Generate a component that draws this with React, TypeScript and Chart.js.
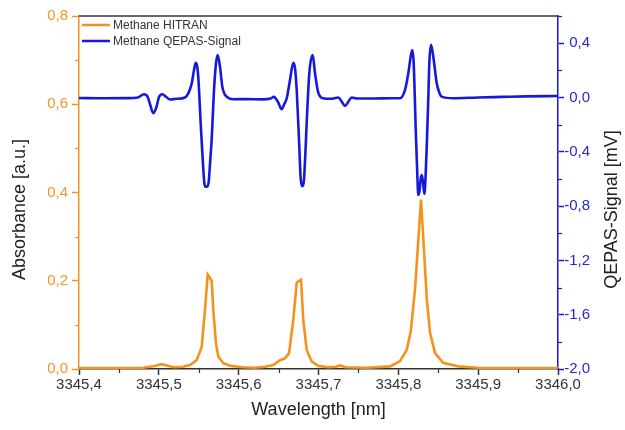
import { useEffect, useRef } from 'react';
import { Chart, registerables } from 'chart.js';

Chart.register(...registerables);

const FONT = "'Liberation Sans', Arial, Helvetica, sans-serif";
const ORANGE = '#F5921E';
const ORANGE_TEXT = '#F0962A';
const BLUE = '#1818DC';
const BLUE_TEXT = '#2828CC';
const DARK = '#333333';
const TITLE = '#222222';

const seriesLabels = ['Methane HITRAN', 'Methane QEPAS-Signal'];
const axisTitles = { x: 'Wavelength [nm]', left: 'Absorbance [a.u.]', right: 'QEPAS-Signal [mV]' };

// Methane HITRAN absorbance (left axis)
const hitranX = [
  3345.400, 3345.440, 3345.480, 3345.495, 3345.503, 3345.510, 3345.518, 3345.530, 3345.539,
  3345.5474, 3345.5537, 3345.5578, 3345.5612, 3345.5662, 3345.5682, 3345.5716, 3345.5745,
  3345.5808, 3345.590, 3345.605, 3345.620, 3345.633, 3345.6434, 3345.6518, 3345.658, 3345.6631,
  3345.6684, 3345.6727, 3345.6781, 3345.681, 3345.6852, 3345.6915, 3345.6998, 3345.712, 3345.722,
  3345.727, 3345.734, 3345.760, 3345.790, 3345.8021, 3345.8105, 3345.8155, 3345.8209, 3345.8284,
  3345.8326, 3345.8356, 3345.8397, 3345.846, 3345.856, 3345.875, 3345.900, 3345.950, 3346.000,
];
const hitranY = [
  0.002, 0.002, 0.003, 0.007, 0.011, 0.008, 0.004, 0.005, 0.009,
  0.020, 0.050, 0.134, 0.214, 0.200, 0.134, 0.058, 0.028,
  0.013, 0.007, 0.004, 0.003, 0.005, 0.009, 0.020, 0.024, 0.036,
  0.111, 0.196, 0.202, 0.110, 0.043, 0.017, 0.007, 0.004, 0.005,
  0.008, 0.004, 0.003, 0.006, 0.018, 0.043, 0.085, 0.180, 0.384,
  0.255, 0.160, 0.082, 0.036, 0.014, 0.006, 0.003, 0.002, 0.002,
];

// Methane QEPAS signal in mV (right axis)
const qepasX = [
  3345.400, 3345.430, 3345.460, 3345.474, 3345.4814, 3345.486, 3345.489, 3345.4931, 3345.497,
  3345.500, 3345.5043, 3345.509, 3345.514, 3345.522, 3345.5328, 3345.5369, 3345.5412, 3345.5440,
  3345.5462, 3345.5480, 3345.5494, 3345.5510, 3345.5524, 3345.5550, 3345.5570, 3345.5585, 3345.5605,
  3345.5625, 3345.5642, 3345.5662, 3345.5691, 3345.5716, 3345.5737, 3345.5766, 3345.5795, 3345.5820,
  3345.5850, 3345.5933, 3345.610, 3345.630, 3345.6400, 3345.6440, 3345.6490, 3345.6539, 3345.6570,
  3345.6602, 3345.6643, 3345.6684, 3345.6705, 3345.6727, 3345.6756, 3345.6775, 3345.6790, 3345.6805,
  3345.6818, 3345.6835, 3345.6852, 3345.6885, 3345.6927, 3345.6956, 3345.6998, 3345.7060, 3345.7150,
  3345.7248, 3345.7290, 3345.7332, 3345.7375, 3345.7416, 3345.7480, 3345.770, 3345.790, 3345.8021,
  3345.8084, 3345.8125, 3345.8155, 3345.8175, 3345.8190, 3345.8200, 3345.8218, 3345.8235, 3345.8250,
  3345.8265, 3345.8280, 3345.8293, 3345.8308, 3345.8326, 3345.8340, 3345.8356, 3345.8376, 3345.8388,
  3345.8409, 3345.8438, 3345.8481, 3345.8520, 3345.8543, 3345.8689, 3345.900, 3345.930, 3345.960,
  3346.000,
];
const qepasY = [
  -0.004, -0.006, -0.005, 0.000, 0.024, 0.005, -0.050, -0.116, -0.070,
  0.000, 0.024, 0.005, -0.015, -0.010, 0.000, 0.030, 0.104, 0.200,
  0.256, 0.230, 0.153, -0.020, -0.190, -0.460, -0.630, -0.657, -0.657,
  -0.620, -0.480, -0.310, 0.055, 0.250, 0.313, 0.227, 0.080, 0.030,
  0.006, -0.013, -0.012, -0.014, -0.008, 0.004, -0.030, -0.087, -0.050,
  -0.006, 0.129, 0.256, 0.220, 0.055, -0.313, -0.580, -0.652, -0.652,
  -0.607, -0.420, -0.188, 0.180, 0.313, 0.180, 0.033, -0.006, -0.010,
  0.000, -0.030, -0.063, -0.030, 0.000, -0.008, -0.008, -0.006, -0.006,
  0.055, 0.178, 0.300, 0.350, 0.280, 0.129, -0.240, -0.520, -0.718,
  -0.690, -0.600, -0.571, -0.620, -0.711, -0.600, -0.362, 0.006, 0.252,
  0.387, 0.300, 0.105, 0.025, 0.006, -0.006, 0.000, 0.004, 0.008,
  0.011,
];

const xTicks = [3345.4, 3345.5, 3345.6, 3345.7, 3345.8, 3345.9, 3346.0];
const xMinorTicks = [3345.45, 3345.55, 3345.65, 3345.75, 3345.85, 3345.95];
const leftTicks = [0, 0.2, 0.4, 0.6, 0.8];
const leftMinorTicks = [0.1, 0.3, 0.5, 0.7];
const rightTicks = [-2.0, -1.6, -1.2, -0.8, -0.4, 0.0, 0.4];
const rightMinorTicks = [-1.8, -1.4, -1.0, -0.6, -0.2, 0.2, 0.6];

const fmt = (v: number) => (Math.abs(v) < 1e-9 ? 0 : v).toFixed(1).replace('.', ',');

const decorPlugin = {
  id: 'decor',
  afterDraw(chart: any) {
    const { ctx, chartArea, scales } = chart;
    const x = scales.x;
    const yl = scales.y;
    const yr = scales.y1;
    ctx.save();
    // top frame line
    ctx.strokeStyle = DARK;
    ctx.lineWidth = 1.5;
    ctx.beginPath();
    ctx.moveTo(chartArea.left, chartArea.top);
    ctx.lineTo(chartArea.right, chartArea.top);
    ctx.stroke();
    // minor ticks
    ctx.lineWidth = 1.2;
    ctx.strokeStyle = DARK;
    for (const v of xMinorTicks) {
      const px = Math.round(x.getPixelForValue(v)) + 0.5;
      ctx.beginPath();
      ctx.moveTo(px, chartArea.bottom);
      ctx.lineTo(px, chartArea.bottom + 4);
      ctx.stroke();
    }
    ctx.strokeStyle = ORANGE;
    for (const v of leftMinorTicks) {
      const py = Math.round(yl.getPixelForValue(v)) + 0.5;
      ctx.beginPath();
      ctx.moveTo(chartArea.left, py);
      ctx.lineTo(chartArea.left - 4, py);
      ctx.stroke();
    }
    ctx.strokeStyle = BLUE;
    for (const v of rightMinorTicks) {
      const py = Math.round(yr.getPixelForValue(v)) + 0.5;
      ctx.beginPath();
      ctx.moveTo(chartArea.right, py);
      ctx.lineTo(chartArea.right + 4, py);
      ctx.stroke();
    }
    // right tick labels, right-aligned
    ctx.fillStyle = BLUE_TEXT;
    ctx.font = `15px ${FONT}`;
    ctx.textAlign = 'right';
    ctx.textBaseline = 'middle';
    for (const v of rightTicks) {
      ctx.fillText(fmt(v), chartArea.right + 32, yr.getPixelForValue(v));
    }
    ctx.restore();

    // vertical axis titles (both read bottom to top)
    const midY = (chartArea.top + chartArea.bottom) / 2 + 17;
    const drawVTitle = (text: string, cx: number) => {
      ctx.save();
      ctx.fillStyle = TITLE;
      ctx.font = `18px ${FONT}`;
      ctx.textAlign = 'center';
      ctx.textBaseline = 'middle';
      ctx.translate(cx, midY);
      ctx.rotate(-Math.PI / 2);
      ctx.fillText(text, 0, 0);
      ctx.restore();
    };
    drawVTitle(axisTitles.left, yl.left + 20);
    drawVTitle(axisTitles.right, yr.right - 13);

    // legend inside plot area
    ctx.save();
    ctx.font = `12px ${FONT}`;
    ctx.textAlign = 'left';
    ctx.textBaseline = 'middle';
    chart.data.datasets.forEach((ds: any, i: number) => {
      const yy = chartArea.top + 9 + i * 16;
      ctx.strokeStyle = ds.borderColor;
      ctx.lineWidth = 2.5;
      ctx.beginPath();
      ctx.moveTo(chartArea.left + 3, yy);
      ctx.lineTo(chartArea.left + 31, yy);
      ctx.stroke();
      ctx.fillStyle = DARK;
      ctx.fillText(ds.label, chartArea.left + 34, yy + 0.5);
    });
    ctx.restore();
  },
};

export default function App() {
  const ref = useRef<HTMLCanvasElement | null>(null);

  useEffect(() => {
    document.body.style.margin = '0';
    const canvas = ref.current;
    if (!canvas) return;
    const chart = new Chart(canvas, {
      type: 'line',
      data: {
        datasets: [
          {
            label: seriesLabels[0],
            data: hitranX.map((v, i) => ({ x: v, y: hitranY[i] })),
            borderColor: ORANGE,
            backgroundColor: ORANGE,
            borderWidth: 2.6,
            pointRadius: 0,
            tension: 0,
            yAxisID: 'y',
            order: 1,
          },
          {
            label: seriesLabels[1],
            data: qepasX.map((v, i) => ({ x: v, y: qepasY[i] })),
            borderColor: BLUE,
            backgroundColor: BLUE,
            borderWidth: 2.6,
            pointRadius: 0,
            cubicInterpolationMode: 'monotone',
            yAxisID: 'y1',
            order: 0,
          },
        ],
      },
      options: {
        responsive: false,
        animation: false,
        events: [],
        layout: { padding: { top: 16, left: 0, right: 0, bottom: 0 } },
        plugins: {
          legend: { display: false },
          tooltip: { enabled: false },
        },
        scales: {
          x: {
            type: 'linear',
            position: 'bottom',
            min: 3345.4,
            max: 3346.0,
            afterBuildTicks: (s: any) => { s.ticks = xTicks.map((v) => ({ value: v })); },
            afterFit: (s: any) => { s.height = 61; },
            grid: { display: true, drawOnChartArea: false, drawTicks: true, tickLength: 6, tickWidth: 1.5, tickColor: DARK },
            border: { display: true, color: DARK, width: 1.5 },
            ticks: {
              color: DARK,
              font: { family: FONT, size: 15 },
              padding: 1,
              maxRotation: 0,
              autoSkip: false,
              callback: (v: any) => fmt(Number(v)),
            },
            title: {
              display: true,
              text: axisTitles.x,
              color: TITLE,
              font: { family: FONT, size: 18 },
              padding: { top: 0, bottom: 9 },
            },
          },
          y: {
            type: 'linear',
            position: 'left',
            min: 0,
            max: 0.8,
            afterBuildTicks: (s: any) => { s.ticks = leftTicks.map((v) => ({ value: v })); },
            afterFit: (s: any) => { s.width = 79; },
            grid: { display: true, drawOnChartArea: false, drawTicks: true, tickLength: 7, tickWidth: 1.5, tickColor: ORANGE },
            border: { display: true, color: ORANGE, width: 1.5 },
            ticks: {
              color: ORANGE_TEXT,
              font: { family: FONT, size: 15 },
              padding: 4,
              callback: (v: any) => fmt(Number(v)),
            },
            title: { display: false },
          },
          y1: {
            type: 'linear',
            position: 'right',
            min: -2.0,
            max: 0.6,
            afterBuildTicks: (s: any) => { s.ticks = rightTicks.map((v) => ({ value: v })); },
            afterFit: (s: any) => { s.width = 67; },
            grid: { display: true, drawOnChartArea: false, drawTicks: true, tickLength: 6, tickWidth: 1.5, tickColor: BLUE },
            border: { display: true, color: BLUE, width: 1.5 },
            ticks: { display: false },
            title: { display: false },
          },
        },
      },
      plugins: [decorPlugin],
    } as any);
    return () => chart.destroy();
  }, []);

  return (
    <div style={{ width: 625, height: 430 }}>
      <canvas ref={ref} width={625} height={430} style={{ display: 'block' }} />
    </div>
  );
}
